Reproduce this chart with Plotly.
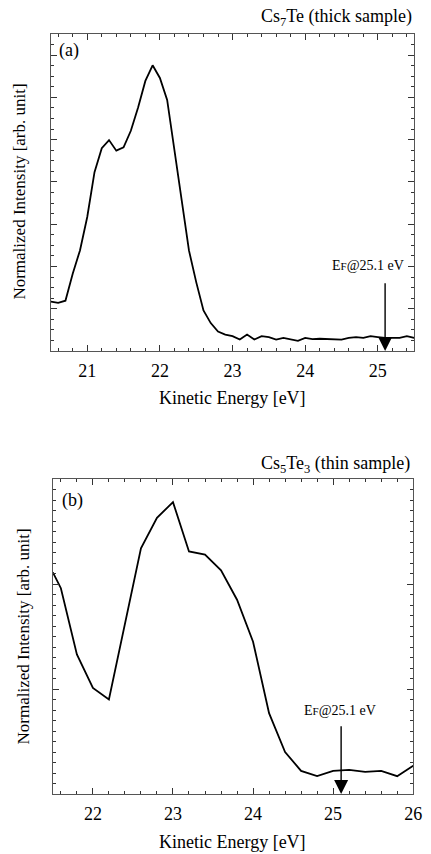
import plotly.graph_objects as go

# Panel (a): Cs7Te (thick sample)
energy_a = [20.5, 20.6, 20.7, 20.8, 20.9, 21.0, 21.1, 21.2, 21.3, 21.4, 21.5, 21.6, 21.7,
            21.8, 21.9, 22.0, 22.1, 22.2, 22.3, 22.4, 22.5, 22.6, 22.7, 22.8, 22.9, 23.0,
            23.1, 23.2, 23.3, 23.4, 23.5, 23.6, 23.7, 23.8, 23.9, 24.0, 24.1, 24.2, 24.3,
            24.4, 24.5, 24.6, 24.7, 24.8, 24.9, 25.0, 25.1, 25.2, 25.3, 25.4, 25.5]
intensity_a = [1.17, 1.14, 1.19, 1.83, 2.38, 3.17, 4.23, 4.80, 4.99, 4.74, 4.82, 5.21, 5.76,
               6.39, 6.76, 6.46, 5.94, 4.74, 3.48, 2.38, 1.63, 0.96, 0.66, 0.46, 0.39, 0.35,
               0.27, 0.39, 0.27, 0.35, 0.33, 0.27, 0.31, 0.27, 0.24, 0.31, 0.28, 0.29, 0.28,
               0.27, 0.27, 0.31, 0.33, 0.31, 0.35, 0.33, 0.31, 0.31, 0.31, 0.35, 0.31]

# Panel (b): Cs5Te3 (thin sample)
energy_b = [21.5, 21.6, 21.8, 22.0, 22.2, 22.4, 22.6, 22.8, 23.0, 23.2, 23.4, 23.6, 23.8,
            24.0, 24.2, 24.4, 24.6, 24.8, 25.0, 25.2, 25.4, 25.6, 25.8, 26.0]
intensity_b = [2.11, 1.96, 1.33, 1.01, 0.90, 1.63, 2.34, 2.63, 2.78, 2.31, 2.28, 2.13, 1.85,
               1.45, 0.77, 0.40, 0.22, 0.17, 0.22, 0.23, 0.21, 0.22, 0.17, 0.27]

xticks_a = [21, 22, 23, 24, 25]
xticks_b = [22, 23, 24, 25, 26]
fermi_energy = 25.1

FONT = "Liberation Serif"
W, H = 431, 854

fig = go.Figure()
fig.add_trace(go.Scatter(x=energy_a, y=intensity_a, mode="lines",
                         line=dict(color="black", width=1.8), xaxis="x", yaxis="y",
                         showlegend=False))
fig.add_trace(go.Scatter(x=energy_b, y=intensity_b, mode="lines",
                         line=dict(color="black", width=1.8), xaxis="x2", yaxis="y2",
                         showlegend=False))

axis_common = dict(showline=True, linecolor="#555", linewidth=1, mirror="allticks",
                   ticks="inside", tickcolor="#333", showgrid=False, zeroline=False,
                   tickfont=dict(family=FONT, size=18, color="black"))

def px_x(p):
    return p / W

def px_y(p):
    return 1 - p / H

fig.update_layout(
    width=W, height=H, margin=dict(l=0, r=0, t=0, b=0),
    plot_bgcolor="white", paper_bgcolor="white",
    font=dict(family=FONT, color="black"),
    xaxis=dict(domain=[px_x(52), px_x(423)], range=[20.5, 25.5], anchor="y",
               tickvals=xticks_a, ticklen=6,
               minor=dict(dtick=0.2, tick0=20.0, ticklen=3, ticks="inside", tickcolor="#333"),
               ticklabelstandoff=3, **axis_common),
    yaxis=dict(domain=[px_y(351), px_y(34)], range=[0, 7.5], anchor="x",
               dtick=1, tick0=0, ticklen=6, showticklabels=False,
               minor=dict(dtick=0.25, tick0=0, ticklen=3, ticks="inside", tickcolor="#333"),
               **axis_common),
    xaxis2=dict(domain=[px_x(54), px_x(422)], range=[21.5, 26], anchor="y2",
                tickvals=xticks_b, ticklen=6,
                minor=dict(dtick=0.2, tick0=21.0, ticklen=3, ticks="inside", tickcolor="#333"),
                ticklabelstandoff=3, **axis_common),
    yaxis2=dict(domain=[px_y(794), px_y(479)], range=[0, 3], anchor="x2",
                dtick=1, tick0=0, ticklen=6, showticklabels=False,
                minor=dict(dtick=0.1, tick0=0, ticklen=3, ticks="inside", tickcolor="#333"),
                **axis_common),
)

ann = []
def paper_text(text, x, y, size, xanchor="center", angle=0):
    ann.append(dict(text=text, x=px_x(x), y=px_y(y), xref="paper", yref="paper",
                     xanchor=xanchor, yanchor="middle", showarrow=False, textangle=angle,
                     font=dict(family=FONT, size=size, color="black")))

# Titles
paper_text("Cs<sub>7</sub>Te (thick sample)", 423, 17, 18, xanchor="right")
paper_text("Cs<sub>5</sub>Te<sub>3</sub> (thin sample)", 421, 464, 18, xanchor="right")
# Panel labels
paper_text("(a)", 70, 51, 18)
paper_text("(b)", 74, 500, 18)
# Axis titles
paper_text("Kinetic Energy [eV]", 237, 398, 18)
paper_text("Kinetic Energy [eV]", 237, 842, 18)
paper_text("Normalized Intensity [arb. unit]", 19, 192, 17, angle=-90)
paper_text("Normalized Intensity [arb. unit]", 23, 637, 17, angle=-90)

ef_label = "E<span style='font-size:11px'>F</span>@25.1 eV"
# Fermi level arrows and labels
ann.append(dict(x=fermi_energy, y=0, ax=fermi_energy, ay=1.64, xref="x", yref="y",
                axref="x", ayref="y", text="", showarrow=True, arrowhead=2,
                arrowsize=2.0, arrowwidth=1.4, arrowcolor="black", standoff=0))
ann.append(dict(x=24.86, y=2.02, xref="x", yref="y", text=ef_label, showarrow=False,
                font=dict(family=FONT, size=14, color="black")))
ann.append(dict(x=fermi_energy, y=0, ax=fermi_energy, ay=0.66, xref="x2", yref="y2",
                axref="x2", ayref="y2", text="", showarrow=True, arrowhead=2,
                arrowsize=2.0, arrowwidth=1.4, arrowcolor="black", standoff=0))
ann.append(dict(x=25.08, y=0.80, xref="x2", yref="y2", text=ef_label, showarrow=False,
                font=dict(family=FONT, size=14, color="black")))

fig.update_layout(annotations=ann)
fig.write_html("out.html", config={"displayModeBar": False},
               post_script="document.body.style.margin='0';"
                           "document.body.style.overflow='hidden';")
